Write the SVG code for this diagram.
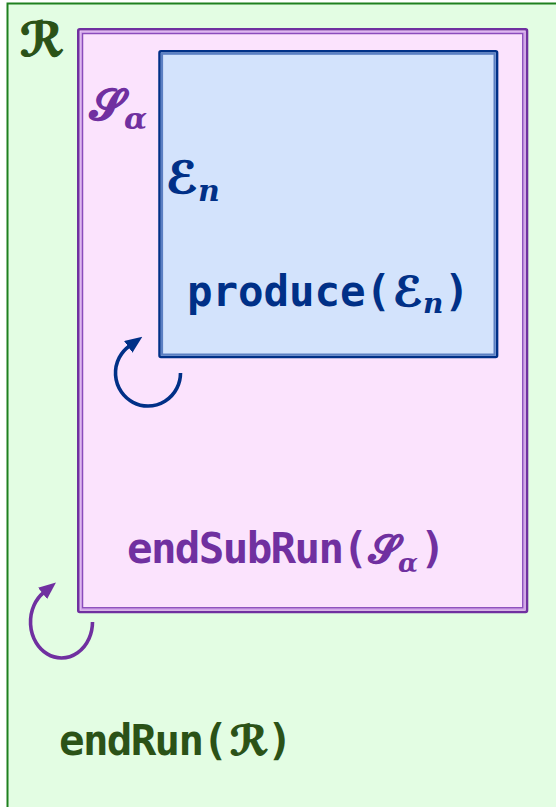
<svg xmlns="http://www.w3.org/2000/svg" width="556" height="807" viewBox="0 0 556 807">
<style>
.mono{font-family:"DejaVu Sans Mono","Liberation Mono",monospace;font-weight:bold;font-size:42.5px}
.scr{font-family:"DejaVu Sans","DejaVu Serif",serif;font-weight:bold;stroke-width:1.2}
.math{font-family:"DejaVu Serif","Liberation Serif",serif;font-style:italic;font-weight:bold}
.g{fill:#2b5217;stroke:#2b5217}.p{fill:#7030a0;stroke:#7030a0}.b{fill:#003087;stroke:#003087}
.mono,.math{stroke:none}
</style>
<defs>
<marker id="ahB" viewBox="0 0 12 10" refX="1" refY="5" markerWidth="4.8" markerHeight="4" orient="auto" markerUnits="strokeWidth"><path d="M0,0 L12,5 L0,10 Z" fill="#003087"/></marker>
<marker id="ahP" viewBox="0 0 12 10" refX="1" refY="5" markerWidth="4.8" markerHeight="4" orient="auto" markerUnits="strokeWidth"><path d="M0,0 L12,5 L0,10 Z" fill="#7030a0"/></marker>
</defs>
<g id="run">
<rect x="7.5" y="3.5" width="580" height="830" fill="#e3fde3" stroke="#1f801f" stroke-width="2"/>
<text class="scr g" x="20" y="56" font-size="47" stroke-width="1.4">ℛ</text>
<text class="mono g" x="59" y="755" textLength="169">endRun(</text>
<text class="scr g" x="230" y="755" font-size="41">ℛ</text>
<text class="mono g" x="267" y="755">)</text>
</g>
<g id="subrun">
<rect x="78.3" y="29.3" width="448.7" height="582.7" rx="1.5" fill="#fbe3fd" stroke="#7030a0" stroke-width="2.6"/>
<rect x="81" y="32" width="443.3" height="577.3" fill="none" stroke="#d2a6ea" stroke-width="1.4"/>
<rect x="82.5" y="33.5" width="440.3" height="574.3" fill="none" stroke="#8a4cbc" stroke-width="1.5"/>
<text class="scr p" x="90" y="120" font-size="44" stroke-width="0.8">𝒮<tspan class="math" font-size="30" dy="9">α</tspan></text>
<text class="mono p" x="127" y="563" textLength="241">endSubRun(</text>
<text class="scr p" x="369" y="563" font-size="39" stroke-width="0.8">𝒮<tspan class="math" font-size="26" dy="9" dx="-1">α</tspan></text>
<text class="mono p" x="420" y="563">)</text>
</g>
<g id="event">
<rect x="159.5" y="51.2" width="337.6" height="305.9" rx="1.5" fill="#d3e3fc" stroke="#003087" stroke-width="2.5"/>
<rect x="162" y="53.7" width="332.6" height="300.9" fill="none" stroke="#5b7fc2" stroke-width="2.2"/>
<text class="scr b" x="166" y="193" font-size="44" stroke-width="0.5">ℰ<tspan class="math" font-size="30" dy="8">n</tspan></text>
<text class="mono b" x="187" y="306" textLength="204">produce(</text>
<text class="scr b" x="393" y="306" font-size="41" stroke-width="0.5">ℰ<tspan class="math" font-size="28" dy="7">n</tspan></text>
<text class="mono b" x="444" y="306">)</text>
</g>
<g id="connectors" fill="none" stroke-width="3.6">
<path d="M180.5,373 A32.5,33 0 1 1 129.4,346" stroke="#003087" marker-end="url(#ahB)"/>
<path d="M92.5,622 A31,36 0 1 1 43.7,592.5" stroke="#7030a0" marker-end="url(#ahP)"/>
</g>
</svg>
